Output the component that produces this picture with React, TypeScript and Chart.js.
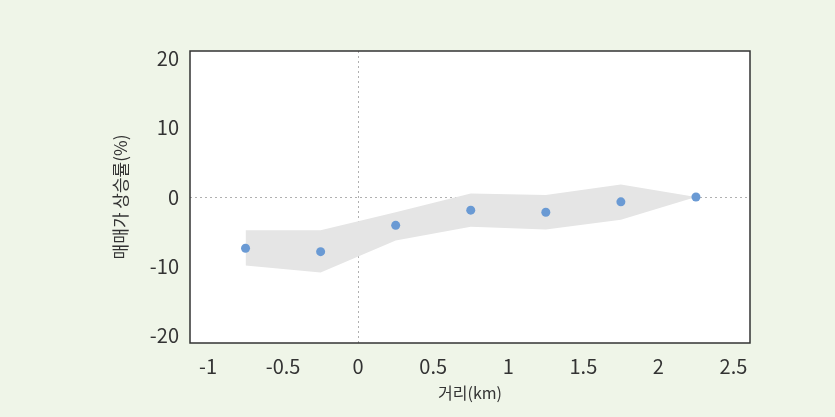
import React, { useEffect, useRef } from "react";
import { Chart, registerables } from "chart.js";

Chart.register(...registerables);

const distances = [-0.75, -0.25, 0.25, 0.75, 1.25, 1.75, 2.25];
const priceChange = [-7.4, -7.9, -4.1, -1.9, -2.2, -0.7, 0];
const upperBound = [-4.8, -4.8, -2.2, 0.5, 0.3, 1.8, 0];
const lowerBound = [-9.9, -10.9, -6.3, -4.3, -4.7, -3.3, 0];
const xTicks = [-1, -0.5, 0, 0.5, 1, 1.5, 2, 2.5];
const yTicks = [-20, -10, 0, 10, 20];

const FONT = "'Noto Sans CJK KR', 'Noto Sans', sans-serif";

const framePlugin = {
  id: "frame",
  beforeDatasetsDraw(chart: any) {
    const { ctx, chartArea: a, scales } = chart;
    ctx.save();
    ctx.fillStyle = "#ffffff";
    ctx.fillRect(a.left, a.top, a.right - a.left, a.bottom - a.top);
    ctx.strokeStyle = "#b0b0b0";
    ctx.lineWidth = 1;
    ctx.setLineDash([2, 3]);
    const x0 = Math.round(scales.x.getPixelForValue(0)) + 0.5;
    const y0 = Math.round(scales.y.getPixelForValue(0)) + 0.5;
    ctx.beginPath();
    ctx.moveTo(x0, a.top);
    ctx.lineTo(x0, a.bottom);
    ctx.moveTo(a.left, y0);
    ctx.lineTo(a.right, y0);
    ctx.stroke();
    ctx.restore();
  },
  afterDatasetsDraw(chart: any) {
    const { ctx, chartArea: a } = chart;
    ctx.save();
    ctx.strokeStyle = "#333333";
    ctx.lineWidth = 1.5;
    ctx.strokeRect(a.left, a.top, a.right - a.left, a.bottom - a.top);
    ctx.restore();
  },
};

export default function App() {
  const ref = useRef<HTMLCanvasElement>(null);
  useEffect(() => {
    document.body.style.margin = "0";
    document.body.style.background = "#eff5e8";
    const chart = new Chart(ref.current!, {
      type: "line",
      data: {
        datasets: [
          {
            label: "매매가 상승률",
            data: distances.map((x, i) => ({ x, y: priceChange[i] })),
            showLine: false,
            pointRadius: 4.5,
            pointBackgroundColor: "#6a9ad4",
            pointBorderWidth: 0,
            borderColor: "#6a9ad4",
          },
          {
            label: "upper",
            data: distances.map((x, i) => ({ x, y: upperBound[i] })),
            borderWidth: 0,
            pointRadius: 0,
            borderColor: "rgba(0,0,0,0)",
            backgroundColor: "#e5e5e5",
            fill: "+1",
            tension: 0,
          },
          {
            label: "lower",
            data: distances.map((x, i) => ({ x, y: lowerBound[i] })),
            borderWidth: 0,
            pointRadius: 0,
            borderColor: "rgba(0,0,0,0)",
            fill: false,
            tension: 0,
          },
        ],
      },
      options: {
        animation: false,
        responsive: false,
        maintainAspectRatio: false,
        layout: { padding: { left: 0, right: 85, top: 51, bottom: 0 } },
        plugins: { legend: { display: false }, tooltip: { enabled: false } },
        scales: {
          x: {
            type: "linear",
            min: -1.12,
            max: 2.61,
            afterBuildTicks: (s: any) => {
              s.ticks = xTicks.map((v) => ({ value: v }));
            },
            afterFit: (s: any) => {
              s.height = 74;
            },
            grid: { display: false, drawTicks: false },
            border: { display: false },
            ticks: {
              padding: 11,
              color: "#333333",
              font: { family: FONT, size: 20 },
              maxRotation: 0,
              autoSkip: false,
              callback: (v: any) => String(v),
            },
            title: {
              display: true,
              text: "거리(km)",
              color: "#333333",
              font: { family: FONT, size: 16 },
              padding: { top: 0, bottom: 14 },
            },
          },
          y: {
            type: "linear",
            min: -21.1,
            max: 21.1,
            afterBuildTicks: (s: any) => {
              s.ticks = yTicks.map((v) => ({ value: v }));
            },
            afterFit: (s: any) => {
              s.width = 190;
            },
            grid: { display: false, drawTicks: false },
            border: { display: false },
            ticks: {
              padding: 11,
              color: "#333333",
              font: { family: FONT, size: 20 },
              autoSkip: false,
              callback: (v: any) => String(v),
            },
            title: {
              display: true,
              text: "매매가 상승률(%)",
              color: "#333333",
              font: { family: FONT, size: 17 },
              padding: { top: 110, bottom: 0 },
            },
          },
        },
      },
      plugins: [framePlugin],
    });
    return () => chart.destroy();
  }, []);
  return (
    <div style={{ width: 835, height: 417, background: "#eff5e8" }}>
      <canvas ref={ref} width={835} height={417} style={{ display: "block" }} />
    </div>
  );
}
